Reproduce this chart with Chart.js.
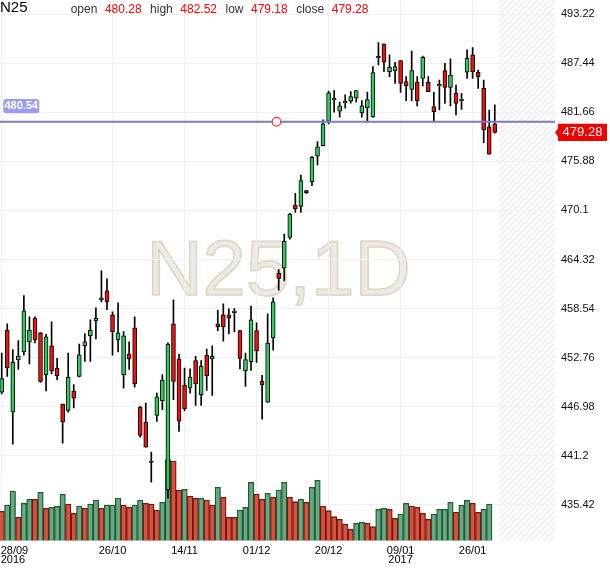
<!DOCTYPE html>
<html>
<head>
<meta charset="utf-8">
<script src="https://cdn.jsdelivr.net/npm/chart.js@4.4.1/dist/chart.umd.min.js"></script>
<style>
  html, body { margin: 0; padding: 0; background: #fff; }
  #wrap { position: relative; width: 610px; height: 568px; }
</style>
</head>
<body>
<div id="wrap"><canvas id="chart"></canvas></div>
<script>
const symbol = 'N25';
const period = '1D';

// daily candles, 28/09/2016 .. 01/02/2017
const opens = [448.71,456.02,446.35,452.49,453.43,454.61,457.40,455.67,450.72,454.14,
  451.54,447.30,446.55,448.83,450.56,454.14,455.32,457.09,459.56,460.62,
  457.79,454.84,450.72,453.19,456.26,446.94,445.18,440.50,445.96,447.69,
  437.20,456.73,452.60,449.54,449.18,452.41,448.40,453.04,452.60,456.73,
  457.79,457.79,458.07,455.95,451.19,452.29,455.95,450.01,447.53,455.08,
  462.68,463.30,466.92,470.73,470.58,472.42,473.48,476.47,477.73,480.56,
  483.11,481.78,482.76,482.96,483.35,481.58,482.17,481.10,488.13,489.66,
  486.44,486.55,487.73,485.26,484.35,485.18,485.65,485.18,482.31,484.75,
  486.55,484.59,483.88,483.02,486.36,488.40,486.36,484.47,479.95,480.28];
const highs = [453.31,456.73,453.70,454.77,460.07,457.56,457.56,455.75,455.51,456.97,
  452.68,447.30,453.31,449.58,454.37,455.59,457.20,458.62,462.98,462.04,
  458.15,459.21,455.83,454.61,457.56,447.02,447.42,441.64,448.59,450.76,
  454.50,459.56,453.19,451.54,451.46,452.92,452.41,453.78,454.14,458.34,
  459.09,458.50,458.54,455.95,453.31,458.82,456.85,450.68,457.91,459.80,
  463.14,467.31,469.75,472.11,474.27,472.45,476.43,478.20,480.76,484.14,
  484.21,482.84,483.70,484.10,484.21,483.04,484.02,487.03,489.86,489.70,
  488.40,487.54,487.73,485.85,488.87,485.85,488.28,485.85,484.00,485.45,
  487.42,487.93,484.86,483.88,488.99,489.27,486.63,485.45,481.92,482.52];
const lows = [448.50,450.56,442.58,451.39,453.04,452.01,454.49,449.85,448.83,450.84,
  450.13,442.70,446.35,446.83,450.48,452.33,452.33,454.96,459.33,458.42,
  453.04,453.43,449.18,451.39,449.30,443.41,442.23,438.10,445.25,446.63,
  436.21,447.81,444.07,446.50,448.59,447.14,447.14,448.91,448.32,455.95,
  454.69,455.55,455.79,451.43,449.38,451.27,452.21,445.53,447.50,453.63,
  460.70,461.81,466.72,469.87,469.87,472.10,473.01,475.45,477.70,480.28,
  481.66,481.07,482.13,482.72,482.84,481.07,480.48,481.05,487.22,486.44,
  485.85,485.06,484.00,483.02,482.98,482.39,484.75,484.08,480.54,481.92,
  482.70,482.39,481.33,481.99,485.65,485.65,484.47,478.06,476.73,479.18];
const closes = [450.29,451.54,452.25,452.96,458.26,456.02,454.88,449.97,455.20,451.19,
  450.60,445.18,450.48,448.00,453.08,454.61,456.02,457.40,459.80,459.33,
  455.83,455.67,455.32,452.60,449.66,443.60,442.23,440.42,448.16,450.13,
  454.37,449.97,445.29,446.75,450.48,449.66,451.74,450.60,452.92,456.38,
  456.38,457.44,458.07,452.68,452.53,457.20,453.55,449.54,454.49,459.33,
  462.08,466.45,469.67,470.26,473.60,472.15,476.35,477.57,480.28,483.94,
  483.19,482.41,482.88,483.51,484.21,482.41,483.15,486.33,488.05,487.54,
  486.95,487.03,485.06,484.75,486.55,483.02,488.13,484.08,481.72,484.75,
  484.59,486.04,482.70,483.02,488.01,486.44,485.85,479.56,476.73,479.28];

// volume (relative units) and whether the bar is drawn as up (green)
const volumes = [29.3,35.7,49.7,23.3,37.3,41.3,41.3,48.3,32.3,33.3,
  34.3,46.3,36.7,27.3,34.7,32.3,36.7,40.7,32.3,35.7,
  35.7,42.7,35.7,33.3,35.7,40.7,37.3,36.7,30.7,38.3,
  81.0,79.7,50.7,51.3,44.7,42.3,42.3,40.7,35.7,53.3,
  43.3,23.3,23.3,30.7,33.3,58.3,46.7,41.3,47.3,43.3,
  50.7,58.3,43.3,39.0,41.3,38.3,53.3,60.3,34.7,30.0,
  24.0,21.3,16.7,11.3,17.3,18.3,17.3,14.0,31.3,32.3,
  31.3,22.3,26.7,37.3,34.7,33.3,27.3,21.3,26.7,31.3,
  31.3,38.3,28.3,35.7,40.3,37.3,28.3,31.3,36.7,null];
const volumeUp = [0,1,1,0,1,1,0,1,0,1,
  1,1,0,0,1,0,1,1,0,1,
  1,1,0,0,1,1,0,0,0,1,
  1,0,0,1,0,0,1,0,0,1,
  0,0,0,1,1,1,0,0,1,0,
  1,1,0,0,1,0,1,1,0,0,
  0,0,0,0,1,1,0,0,1,1,
  0,0,1,1,0,0,0,0,1,1,
  1,1,0,1,1,0,0,1,1,0];

const priceTicks = [435.42, 441.2, 446.98, 452.76, 458.54, 464.32, 470.1, 475.88, 481.66, 487.44, 493.22];
const dateTicks = [0, 20, 33, 46, 59, 72, 85];
const dateLabels = [['28/09', '2016'], '26/10', '14/11', '01/12', '20/12', ['09/01', '2017'], '26/01'];

// horizontal price line and its alert marker
const priceLine = 480.54;
const alertIndex = 49.6;

const FONT = '"Liberation Sans", Arial, sans-serif';
const last = opens.length - 1;
const idx = opens.map((_, i) => i);
const isUp = i => closes[i] >= opens[i];

const bodies = idx.map(i => ({x: i, y: [opens[i], closes[i]]}));
const wicks = idx.map(i => ({x: i, y: [lows[i], highs[i]]}));
const vols = idx.map(i => ({x: i, y: volumes[i]}));

const noPad = s => { s.paddingTop = 0; s.paddingBottom = 0; s.paddingLeft = 0; s.paddingRight = 0; };

const backdrop = {
  id: 'backdrop',
  beforeDraw(chart) {
    const {ctx, chartArea: ca} = chart;
    const xs = chart.scales.x;
    ctx.save();
    ctx.fillStyle = '#fff';
    ctx.fillRect(0, 0, chart.width, chart.height);

    // future zone hatch
    const x0 = xs.getPixelForValue(last + 0.8);
    ctx.beginPath();
    ctx.rect(x0, ca.top, ca.right - x0, ca.bottom - ca.top);
    ctx.clip();
    ctx.strokeStyle = '#ededed';
    ctx.lineWidth = 1.5;
    for (let k = -700; k < 200; k += 6) {
      ctx.beginPath();
      ctx.moveTo(x0 + k, ca.bottom);
      ctx.lineTo(x0 + k + 700, ca.bottom - 700);
      ctx.stroke();
    }
    ctx.restore();

    // watermark
    ctx.save();
    ctx.font = '78px ' + FONT;
    ctx.textAlign = 'center';
    ctx.textBaseline = 'alphabetic';
    ctx.fillStyle = '#eeeae1';
    ctx.strokeStyle = '#dcd5c5';
    ctx.lineWidth = 1.5;
    const wm = symbol + ',' + period;
    ctx.fillText(wm, 278.5, 295);
    ctx.strokeText(wm, 278.5, 295);
    ctx.restore();
  }
};

const overlay = {
  id: 'overlay',
  afterDraw(chart) {
    const {ctx, chartArea: ca} = chart;
    const xs = chart.scales.x, ys = chart.scales.y;
    ctx.save();

    // header
    ctx.textBaseline = 'alphabetic';
    ctx.textAlign = 'left';
    ctx.fillStyle = '#000';
    ctx.font = '15px ' + FONT;
    ctx.fillText(symbol, 0, 12);
    ctx.font = '12px ' + FONT;
    const parts = [['open', opens[last]], ['high', highs[last]], ['low', lows[last]], ['close', closes[last]]];
    let hx = 70.7;
    parts.forEach(([name, val]) => {
      ctx.fillStyle = '#333';
      ctx.fillText(name, hx, 13);
      hx += ctx.measureText(name).width + 7.5;
      const s = val.toFixed(2);
      ctx.fillStyle = '#ff0000';
      ctx.fillText(s, hx, 13);
      hx += ctx.measureText(s).width + 8.5;
    });

    // date labels
    ctx.fillStyle = '#000';
    ctx.font = '11px ' + FONT;
    dateTicks.forEach((v, k) => {
      const px = xs.getPixelForValue(v);
      [].concat(dateLabels[k]).forEach((t, j) => {
        const w = ctx.measureText(t).width;
        const left = Math.max(px - w / 2, 0.7);
        ctx.fillText(t, left, 553.5 + j * 9.5);
      });
    });

    // price line tag (left)
    const ly = ys.getPixelForValue(priceLine);
    ctx.fillStyle = '#9c9cf2';
    ctx.beginPath();
    ctx.roundRect(3.3, ly - 22.7, 36, 14.3, 3);
    ctx.fill();
    ctx.fillStyle = '#fff';
    ctx.font = 'bold 11px ' + FONT;
    ctx.textAlign = 'center';
    ctx.textBaseline = 'middle';
    ctx.fillText(priceLine.toFixed(2), 21.3, ly - 15.3);

    // last close tag (right axis)
    const cy = ys.getPixelForValue(closes[last]);
    const rx = ca.right;
    ctx.fillStyle = '#f00000';
    ctx.beginPath();
    ctx.moveTo(rx, cy);
    ctx.lineTo(rx + 3, cy - 4);
    ctx.lineTo(rx + 3, cy - 8.7);
    ctx.lineTo(rx + 52, cy - 8.7);
    ctx.lineTo(rx + 52, cy + 8.7);
    ctx.lineTo(rx + 3, cy + 8.7);
    ctx.lineTo(rx + 3, cy + 4);
    ctx.closePath();
    ctx.fill();
    ctx.fillStyle = '#fff';
    ctx.font = '13px ' + FONT;
    ctx.fillText(closes[last].toFixed(2), rx + 27.5, cy + 0.5);
    ctx.restore();
  }
};

new Chart(document.getElementById('chart'), {
  type: 'bar',
  data: {
    datasets: [
      {
        type: 'line',
        data: [{x: -1, y: priceLine}, {x: 101, y: priceLine}],
        borderColor: '#7b7bc0',
        borderWidth: 2,
        pointRadius: 0,
        order: 0,
      },
      {
        type: 'line',
        data: [{x: alertIndex, y: priceLine}],
        showLine: false,
        pointRadius: 4.3,
        pointBorderWidth: 1.3,
        pointBorderColor: '#ff3a3a',
        pointBackgroundColor: '#fff',
        order: -1,
      },
      {
        data: bodies,
        grouped: false,
        barThickness: 4,
        minBarLength: 1.5,
        borderWidth: 1,
        borderSkipped: false,
        borderColor: '#000',
        backgroundColor: idx.map(i => isUp(i) ? '#2ecc5f' : '#f01010'),
        order: 1,
      },
      {
        data: wicks,
        grouped: false,
        barThickness: 1,
        borderWidth: 0,
        backgroundColor: '#000',
        order: 2,
      },
      {
        data: vols,
        yAxisID: 'yv',
        grouped: false,
        barThickness: 5.5,
        borderWidth: 1.3,
        borderColor: idx.map(i => volumeUp[i] ? '#1f5a33' : '#6e1a12'),
        backgroundColor: idx.map(i => volumeUp[i] ? '#68a882' : '#d9523f'),
        order: 3,
      },
    ],
  },
  options: {
    responsive: true,
    maintainAspectRatio: false,
    animation: false,
    events: [],
    layout: {padding: 0, autoPadding: false},
    plugins: {legend: {display: false}, tooltip: {enabled: false}},
    scales: {
      x: {
        type: 'linear',
        min: -0.31,
        max: 99.87,
        offset: false,
        afterBuildTicks: s => { s.ticks = dateTicks.map(v => ({value: v})); },
        afterFit: s => { s.height = 27.3; noPad(s); },
        grid: {color: '#f0f0f0', offset: false, drawTicks: false},
        border: {display: false},
        ticks: {display: false},
      },
      y: {
        position: 'right',
        min: 431.21,
        max: 494.87,
        afterBuildTicks: s => { s.ticks = priceTicks.map(v => ({value: v})); },
        afterFit: s => { s.width = 55; noPad(s); },
        grid: {color: '#f0f0f0', drawTicks: false},
        border: {display: false},
        ticks: {
          padding: 6,
          color: '#111',
          font: {family: FONT, size: 11},
          callback: v => String(v),
        },
      },
      yv: {
        display: false,
        min: 0,
        max: 540.7,
      },
    },
  },
  plugins: [backdrop, overlay],
});
</script>
</body>
</html>
